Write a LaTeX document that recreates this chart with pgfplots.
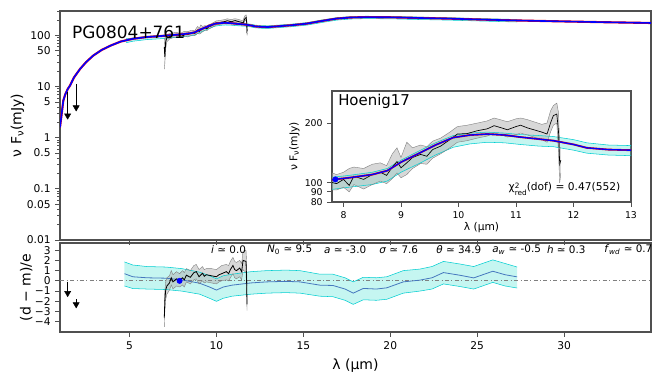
\documentclass[border=0pt]{standalone}
\usepackage{fontspec}
\setmainfont{DejaVu Sans}
\usepackage{pgfplots}
\usepackage{pgfplotstable}
\pgfplotsset{compat=1.18}
\usepgfplotslibrary{fillbetween}

\definecolor{bandcyan}{RGB}{64,224,208}
\definecolor{cyanedge}{RGB}{0,206,209}
\definecolor{steel}{RGB}{70,120,190}
\definecolor{frame}{RGB}{80,80,80}

% best-fit model (mJy)
\pgfplotstableread{
x y
1.00 1.6
1.05 2.2
1.10 3.0
1.19 5.3
1.30 7.0
1.45 9.0
1.58 10.5
1.80 15
2.15 22
2.50 30
2.90 40
3.40 52
3.90 63
4.50 76
5.20 86
6.00 93
6.76 97
7.40 101
7.85 104
8.10 106
8.50 110
8.76 115
9.00 127
9.34 142
9.60 155
9.91 169
10.20 174
10.50 176
10.80 174
11.07 170
11.40 166
11.65 163
12.00 156
12.23 150
12.60 147
12.98 146
13.45 150
14.30 158
15.20 170
16.00 190
16.90 213
17.70 224
18.60 228
20.00 226
21.50 220
23.40 213
25.00 205
27.00 197
29.20 190
32.00 182
35.00 175
}\model

% model uncertainty band
\pgfplotstableread{
x lo hi
4.80 72 86
5.20 77 89
6.00 83 96
6.76 86 100
7.40 90 104
7.85 93 107
8.10 95 109
8.50 98 113
8.76 102 118
9.00 113 130
9.34 126 146
9.60 138 159
9.91 151 173
10.20 157 178
10.50 160 180
10.80 159 178
11.07 156 175
11.40 153 173
11.65 152 171
12.00 146 165
12.23 141 159
12.60 138 155
12.98 137 154
13.45 141 158
14.30 148 166
15.20 159 178
16.00 177 199
16.90 199 222
17.70 209 233
18.60 213 237
20.00 211 235
21.50 205 229
23.40 199 222
25.00 192 214
27.30 183 205
}\band

% observed spectrum (mJy)
\pgfplotstableread{
x y lo hi
7.00 60 22 90
7.03 38 28 62
7.08 75 55 95
7.15 90 75 105
7.30 95 85 108
7.50 100 90 112
7.70 102 92 115
7.88 99 92 110
8.00 104 95 113
8.10 97 90 118
8.18 108 98 120
8.35 104 93 118
8.50 110 98 124
8.64 113 102 126
8.75 109 99 122
8.85 120 105 140
8.93 128 112 150
9.00 119 106 134
9.10 126 110 160
9.20 134 118 150
9.34 139 125 155
9.45 136 124 152
9.55 147 133 162
9.69 153 140 168
9.85 165 150 180
9.98 176 160 192
10.15 177 163 195
10.33 183 168 200
10.50 187 172 205
10.62 194 178 212
10.75 189 174 207
10.85 185 170 203
11.00 192 175 210
11.08 195 178 212
11.20 189 174 208
11.31 185 170 203
11.45 180 165 197
11.54 176 160 200
11.60 200 180 230
11.65 218 195 245
11.71 222 200 252
11.74 180 140 225
11.76 124 100 150
11.78 130 112 150
}\spec

% residuals of the spectrum
\pgfplotstableread{
x y lo hi
7.00 -3.6 -4.5 -2.0
7.03 -2.0 -3.0 -1.0
7.08 -0.9 -1.8 -0.1
7.15 -0.5 -1.3 0.3
7.30 -0.2 -0.9 0.5
7.40 0.3 -0.4 1.0
7.50 -0.1 -0.8 0.6
7.70 0.2 -0.5 0.9
7.88 0.05 -0.6 0.7
8.05 0.3 -0.4 1.0
8.15 0.1 -0.6 0.8
8.27 0.55 -0.1 1.2
8.50 0.35 -0.3 1.0
8.70 0.8 0.1 1.5
8.84 0.9 0.2 1.6
9.00 0.4 -0.3 1.1
9.20 0.75 0.0 1.4
9.30 0.45 -0.2 1.1
9.42 0.6 -0.1 1.2
9.70 0.5 -0.2 1.2
10.00 0.4 -0.3 1.1
10.15 0.6 -0.1 1.3
10.30 0.7 0.0 1.5
10.57 0.9 0.1 1.6
10.70 0.7 0.0 1.5
10.80 1.1 0.3 1.9
10.95 1.5 0.7 2.3
11.05 1.1 0.3 1.9
11.15 1.0 0.2 1.8
11.34 1.25 0.4 2.0
11.45 0.9 0.1 1.7
11.53 2.0 1.1 2.9
11.70 1.9 0.8 3.0
11.73 0.5 -0.5 2.0
11.76 -2.3 -2.9 -0.5
}\resdata

% residuals of the model realisations
\pgfplotstableread{
x y lo hi
4.71 0.70 -0.50 1.85
5.19 0.40 -0.75 1.55
6.00 0.30 -0.80 1.40
7.10 0.26 -0.85 1.35
8.00 0.10 -1.00 1.20
9.03 -0.23 -1.30 0.85
9.60 -0.60 -1.70 0.50
10.00 -0.90 -2.00 0.20
10.40 -0.60 -1.70 0.50
10.90 -0.42 -1.50 0.65
12.00 -0.20 -1.30 0.90
12.90 -0.10 -1.20 1.00
14.00 -0.05 -1.15 1.05
14.80 -0.10 -1.20 1.00
15.95 -0.42 -1.50 0.65
16.70 -0.45 -1.55 0.65
17.40 -0.80 -1.90 0.30
17.87 -1.20 -2.30 -0.10
18.45 -0.74 -1.85 0.35
19.20 -0.80 -1.90 0.30
19.80 -0.68 -1.80 0.40
20.75 -0.10 -1.20 1.00
21.70 0.07 -1.00 1.15
22.40 0.30 -0.80 1.40
23.06 0.81 -0.30 1.90
24.00 0.55 -0.55 1.65
24.80 0.29 -0.80 1.40
25.90 0.94 -0.15 2.05
26.60 0.60 -0.50 1.70
27.30 0.39 -0.70 1.35
}\resmodel

\pgfplotsset{
  every axis/.append style={
    scale only axis, clip mode=individual,
    axis line style={frame, line width=0.8pt},
    tick align=outside, xtick pos=left, ytick pos=left,
    major tick length=3.5pt, minor tick length=2pt,
    tick style={frame, line width=0.6pt},
    tick label style={font=\fontsize{8}{9}\selectfont},
    label style={font=\fontsize{10.5}{12}\selectfont},
  },
}

\begin{document}
\begin{tikzpicture}

% ---- SED panel
\begin{axis}[
  at={(45pt,-8.25pt)}, anchor=north west,
  width=443.25pt, height=171.75pt,
  xmin=1, xmax=35, ymode=log, ymin=0.01, ymax=300,
  xtick={5,10,...,30}, xticklabels={},
  ytick={0.01,0.05,0.1,0.5,1,5,10,50,100},
  yticklabels={0.01,0.05,0.1,0.5,1,5,10,50,100},
  minor ytick={0.02,0.03,0.04,0.06,0.07,0.08,0.09,0.2,0.3,0.4,0.6,0.7,0.8,0.9,2,3,4,6,7,8,9,20,30,40,60,70,80,90,200,300},
  ylabel={ν F\textsubscript{ν}(mJy)}, ylabel style={yshift=-5pt},
]
\addplot[name path=clo, draw=cyanedge, line width=0.4pt] table[x=x,y=lo]{\band};
\addplot[name path=chi, draw=cyanedge, line width=0.4pt] table[x=x,y=hi]{\band};
\addplot[fill=bandcyan, fill opacity=0.3, draw=none] fill between[of=clo and chi];
\addplot[name path=glo, draw=gray, line width=0.3pt] table[x=x,y=lo]{\spec};
\addplot[name path=ghi, draw=gray, line width=0.3pt] table[x=x,y=hi]{\spec};
\addplot[fill=gray!60, fill opacity=0.5, draw=none] fill between[of=glo and ghi];
\addplot[black, line width=0.6pt] table[x=x,y=y]{\spec};
\addplot[red, line width=1.6pt] table[x=x,y=y]{\model};
\addplot[blue, line width=1.2pt] table[x=x,y=y]{\model};
\addplot[black, only marks, mark=triangle*, mark size=2.6pt, mark options={rotate=180},
  error bars/.cd, y dir=plus, y explicit, error mark=-,
  error bar style={line width=0.6pt}, error mark options={mark size=2.5pt, line width=0.6pt}]
  coordinates {(1.44,2.7) +- (0,3.9) (1.93,3.9) +- (0,5.8)};
\node[anchor=west, inner sep=0pt, font=\fontsize{12.7}{14}\selectfont] at (rel axis cs:0.02,0.905) {PG0804+761};
\end{axis}

% ---- inset
\begin{axis}[
  at={(249pt,-68.25pt)}, anchor=north west,
  width=224.25pt, height=83.25pt,
  axis background/.style={fill=white},
  xmin=7.8, xmax=13, ymode=log, ymin=80, ymax=290,
  xtick={8,9,10,11,12,13}, xticklabels={8,9,10,11,12,13},
  ytick={80,90,100,200}, yticklabels={80,90,100,200},
  tick label style={font=\fontsize{7}{8}\selectfont},
  label style={font=\fontsize{8}{9}\selectfont},
  xlabel={λ (μm)}, ylabel={ν F\textsubscript{ν}(mJy)},
  xlabel style={yshift=4pt}, ylabel style={yshift=-3pt},
]
\addplot[name path=clo, draw=cyanedge, line width=0.4pt] table[x=x,y=lo]{\band};
\addplot[name path=chi, draw=cyanedge, line width=0.4pt] table[x=x,y=hi]{\band};
\addplot[fill=bandcyan, fill opacity=0.3, draw=none] fill between[of=clo and chi];
\addplot[name path=glo, draw=gray, line width=0.3pt] table[x=x,y=lo]{\spec};
\addplot[name path=ghi, draw=gray, line width=0.3pt] table[x=x,y=hi]{\spec};
\addplot[fill=gray!60, fill opacity=0.5, draw=none] fill between[of=glo and ghi];
\addplot[black, line width=0.5pt] table[x=x,y=y]{\spec};
\addplot[red, line width=1.4pt] table[x=x,y=y]{\model};
\addplot[blue, line width=1.0pt] table[x=x,y=y]{\model};
\addplot[blue, only marks, mark=*, mark size=2pt] coordinates {(7.86,104)};
\node[anchor=west, inner sep=0pt, font=\fontsize{11.2}{13}\selectfont] at (rel axis cs:0.02,0.91) {Hoenig17};
\node[anchor=east, font=\fontsize{8}{9}\selectfont] at (rel axis cs:0.98,0.11)
  {χ\raisebox{-0.3ex}{\fontsize{5.5}{5.5}\selectfont\begin{tabular}{@{}l@{}}2\\[-1.2pt]red\end{tabular}}(dof) = 0.47(552)};
\end{axis}

% ---- residual panel
\begin{axis}[
  at={(45pt,-182.25pt)}, anchor=north west,
  width=443.25pt, height=66.75pt,
  xmin=1, xmax=35, ymin=-5, ymax=3.7,
  xtick={5,10,...,30}, xticklabels={5,10,15,20,25,30},
  ytick={-4,-3,...,3}, yticklabels={−4,−3,−2,−1,0,1,2,3},
  xlabel={λ (μm)}, ylabel={(d − m)/e}, ylabel style={yshift=-5pt},
]
\addplot[gray, dash dot, line width=0.6pt] coordinates {(1,0) (35,0)};
\addplot[name path=clo, draw=cyanedge, line width=0.4pt] table[x=x,y=lo]{\resmodel};
\addplot[name path=chi, draw=cyanedge, line width=0.4pt] table[x=x,y=hi]{\resmodel};
\addplot[fill=bandcyan, fill opacity=0.3, draw=none] fill between[of=clo and chi];
\addplot[steel, line width=0.6pt] table[x=x,y=y]{\resmodel};
\addplot[name path=glo, draw=gray, line width=0.3pt] table[x=x,y=lo]{\resdata};
\addplot[name path=ghi, draw=gray, line width=0.3pt] table[x=x,y=hi]{\resdata};
\addplot[fill=gray!60, fill opacity=0.5, draw=none] fill between[of=glo and ghi];
\addplot[black, line width=0.6pt] table[x=x,y=y]{\resdata};
\addplot[blue, only marks, mark=*, mark size=2pt] coordinates {(7.88,0)};
\addplot[black, only marks, mark=triangle*, mark size=2.6pt, mark options={rotate=180},
  error bars/.cd, y dir=plus, y explicit, error mark=-,
  error bar style={line width=0.6pt}, error mark options={mark size=2.5pt, line width=0.6pt}]
  coordinates {(1.44,-1.2) +- (0,0.8) (1.93,-2.3) +- (0,0.2)};
\begin{scope}[font=\fontsize{7.8}{9}\selectfont]
\node[anchor=west] at (axis cs:9.43,3.05) {\textit{i} ≃ 0.0};
\node[anchor=west] at (axis cs:12.65,3.05) {\textit{N}\textsubscript{0} ≃ 9.5};
\node[anchor=west] at (axis cs:15.93,3.05) {\textit{a} ≃ -3.0};
\node[anchor=west] at (axis cs:19.1,3.05) {\textit{σ} ≃ 7.6};
\node[anchor=west] at (axis cs:22.38,3.05) {\textit{θ} ≃ 34.9};
\node[anchor=west] at (axis cs:25.6,3.05) {\textit{a}\textsubscript{\textit{w}} ≃ -0.5};
\node[anchor=west] at (axis cs:28.75,3.05) {\textit{h} ≃ 0.3};
\node[anchor=west] at (axis cs:32.04,3.05) {\textit{f}\textsubscript{\textit{wd}} ≃ 0.7};
\end{scope}
\end{axis}

\path (0,0) rectangle (498pt,-276.75pt);
\end{tikzpicture}
\end{document}
